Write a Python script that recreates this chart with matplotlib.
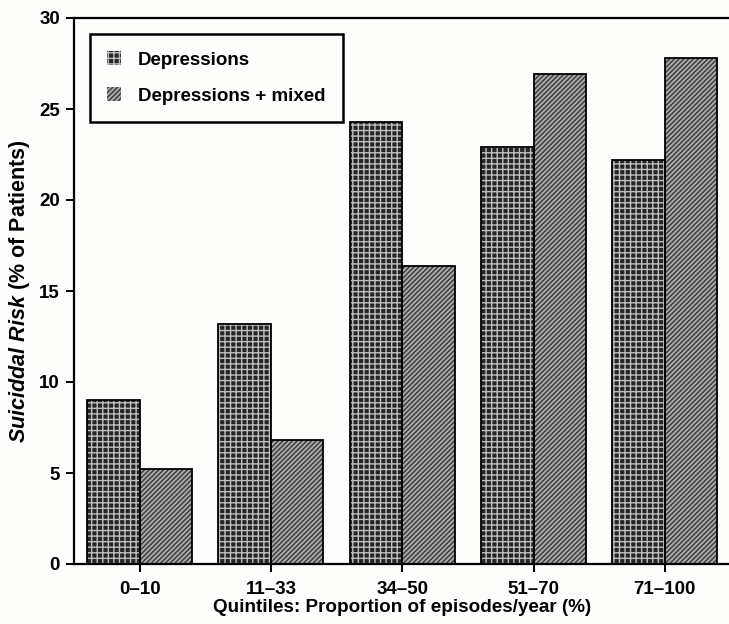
import matplotlib
matplotlib.use("Agg")
import matplotlib.pyplot as plt
import numpy as np
from matplotlib.patches import Patch

# data
quintiles = ["0\u201310", "11\u201333", "34\u201350", "51\u201370", "71\u2013100"]
depressions = [9.0, 13.2, 24.3, 22.9, 22.2]
depressions_mixed = [5.2, 6.8, 16.4, 26.9, 27.8]

plt.rcParams['font.family'] = ['Liberation Sans', 'DejaVu Sans']
plt.rcParams['font.weight'] = 'bold'
plt.rcParams['mathtext.fontset'] = 'custom'
plt.rcParams['mathtext.it'] = 'Liberation Sans:italic:bold'
plt.rcParams['mathtext.rm'] = 'Liberation Sans:bold'
plt.rcParams['hatch.linewidth'] = 1.0

bg = '#fefdfb'
fig = plt.figure(figsize=(7.29, 6.24), dpi=100, facecolor=bg)
ax = fig.add_axes([74 / 729, 60 / 624, 656.5 / 729, 546 / 624], facecolor=bg)

x = np.arange(len(quintiles))
w = 0.4

# fill with hatch first, then the black outline on top
ax.bar(x - w / 2, depressions, w, color='#262626', edgecolor='#bdbdbd',
       hatch='+++', linewidth=0, zorder=2)
ax.bar(x - w / 2, depressions, w, fill=False, edgecolor='black', linewidth=1.3, zorder=3)
ax.bar(x + w / 2, depressions_mixed, w, color='#a8a8a8', edgecolor='#3a3a3a',
       hatch='///////', linewidth=0, zorder=2)
ax.bar(x + w / 2, depressions_mixed, w, fill=False, edgecolor='black', linewidth=1.3, zorder=3)

ax.set_xlim(-0.5, 4.5)
ax.set_ylim(0, 30)
ax.set_yticks([0, 5, 10, 15, 20, 25, 30])
ax.set_xticks(x)
ax.set_xticklabels(quintiles)

for side in ['left', 'top', 'bottom']:
    ax.spines[side].set_linewidth(1.6)
ax.spines['right'].set_visible(False)
ax.tick_params(axis='both', direction='out', length=6, width=1.4, labelsize=13.5, pad=4)
ax.tick_params(axis='x', pad=6)

ax.set_xlabel('Quintiles: Proportion of episodes/year (%)', fontsize=13.6, fontweight='bold', labelpad=1)
ax.set_ylabel(r'$\mathit{Suiciddal\ Risk}$ (% of Patients)', fontsize=15.5, fontweight='bold', labelpad=5)

handles = [
    Patch(facecolor='#262626', edgecolor='#bdbdbd', hatch='+++', linewidth=0),
    Patch(facecolor='#a8a8a8', edgecolor='#3a3a3a', hatch='///////', linewidth=0),
]
leg = ax.legend(handles, ['Depressions', 'Depressions + mixed'], loc='upper left',
                bbox_to_anchor=(0.025, 0.97), fancybox=False, framealpha=1,
                edgecolor='black', fontsize=13.5, handlelength=0.75, handleheight=0.75,
                handletextpad=0.9, borderpad=0.9, labelspacing=1.0, borderaxespad=0)
leg.get_frame().set_linewidth(1.8)
leg.get_frame().set_facecolor(bg)

fig.savefig('out.png', dpi=100, facecolor=bg)
